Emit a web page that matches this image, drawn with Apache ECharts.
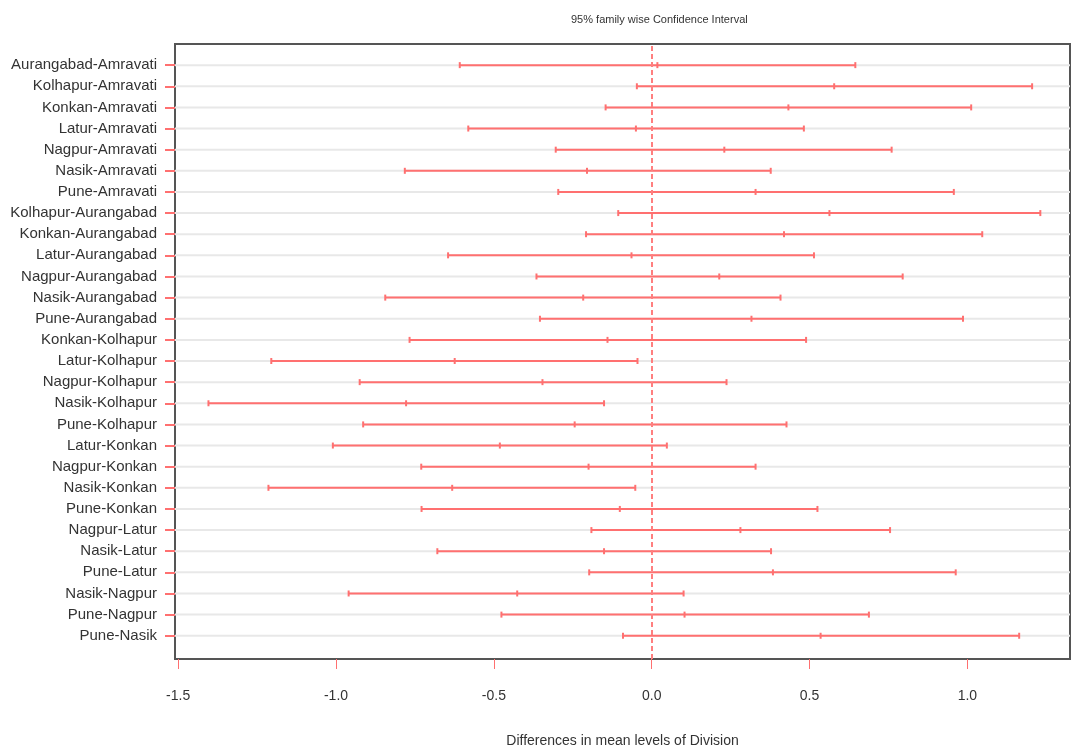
<!DOCTYPE html>
<html>
<head>
<meta charset="utf-8">
<script src="https://cdn.jsdelivr.net/npm/echarts@6/dist/echarts.min.js"></script>
<style>html,body{margin:0;padding:0;background:#fff}#c{width:1075px;height:749px}</style>
</head>
<body>
<div id="c"></div>
<script>
const comparisons = ["Aurangabad-Amravati","Kolhapur-Amravati","Konkan-Amravati","Latur-Amravati","Nagpur-Amravati","Nasik-Amravati","Pune-Amravati","Kolhapur-Aurangabad","Konkan-Aurangabad","Latur-Aurangabad","Nagpur-Aurangabad","Nasik-Aurangabad","Pune-Aurangabad","Konkan-Kolhapur","Latur-Kolhapur","Nagpur-Kolhapur","Nasik-Kolhapur","Pune-Kolhapur","Latur-Konkan","Nagpur-Konkan","Nasik-Konkan","Pune-Konkan","Nagpur-Latur","Nasik-Latur","Pune-Latur","Nasik-Nagpur","Pune-Nagpur","Pune-Nasik"];
const diff  = [0.018,0.578,0.433,-0.050,0.230,-0.205,0.329,0.563,0.419,-0.064,0.214,-0.217,0.316,-0.140,-0.624,-0.346,-0.778,-0.244,-0.481,-0.200,-0.632,-0.101,0.281,-0.151,0.384,-0.426,0.104,0.535];
const lower = [-0.608,-0.047,-0.146,-0.581,-0.304,-0.782,-0.296,-0.106,-0.208,-0.645,-0.365,-0.844,-0.354,-0.767,-1.205,-0.925,-1.404,-0.914,-1.010,-0.730,-1.214,-0.729,-0.191,-0.679,-0.198,-0.960,-0.476,-0.091];
const upper = [0.645,1.205,1.012,0.482,0.760,0.377,0.957,1.231,1.047,0.514,0.795,0.408,0.986,0.489,-0.045,0.237,-0.151,0.427,0.048,0.329,-0.052,0.525,0.755,0.378,0.963,0.101,0.688,1.164];
const xTicks = [-1.5,-1.0,-0.5,0.0,0.5,1.0];

const n = comparisons.length;
const rowPos = comparisons.map((_, i) => n - i);   // top row highest
const intervalData = comparisons.map((_, i) => [lower[i], diff[i], upper[i], rowPos[i]]);
const rowData = rowPos.map(p => [0, p]);
const RED = '#ff7070';

const chart = echarts.init(document.getElementById('c'), null, {renderer: 'canvas'});
chart.setOption({
  animation: false,
  backgroundColor: '#ffffff',
  title: {
    text: '95% family wise Confidence Interval',
    left: 566, top: 9,
    textStyle: {fontFamily: 'Liberation Sans Narrow, Liberation Sans', fontSize: 11, fontWeight: 'normal', color: '#333'}
  },
  grid: {left: 175, right: 5, top: 44, bottom: 90, outerBoundsMode: 'none', containLabel: false,
    show: true, borderColor: '#555', borderWidth: 2, backgroundColor: 'transparent'},
  xAxis: {
    type: 'value', min: -1.51, max: 1.325,
    axisLine: {show: false, onZero: false},
    splitLine: {show: false},
    axisTick: {show: true, customValues: xTicks, length: 10, lineStyle: {color: RED, width: 1}},
    axisLabel: {customValues: xTicks, formatter: v => v.toFixed(1), margin: 30, fontFamily: 'Liberation Sans', fontSize: 14, color: '#333'},
    name: 'Differences in mean levels of Division',
    nameLocation: 'middle', nameGap: 75,
    nameTextStyle: {fontFamily: 'Liberation Sans', fontSize: 14, color: '#333'}
  },
  yAxis: {
    type: 'value', min: -0.1, max: 29.0,
    axisLine: {show: false, onZero: false},
    splitLine: {show: false},
    axisTick: {show: true, customValues: rowPos, length: 10, lineStyle: {color: RED, width: 2}},
    axisLabel: {customValues: rowPos, formatter: v => comparisons[n - v] || '', margin: 18, fontFamily: 'Liberation Sans', fontSize: 15, color: '#333'}
  },
  series: [
    {
      type: 'custom',
      data: rowData,
      silent: true,
      z: 1,
      renderItem: function (params, api) {
        const cs = params.coordSys;
        const y = api.coord([0, api.value(1)])[1];
        return {type: 'line', shape: {x1: cs.x, y1: y, x2: cs.x + cs.width, y2: y},
          style: {stroke: '#e8e8e8', lineWidth: 2}};
      }
    },
    {
      type: 'custom',
      data: intervalData,
      z: 3,
      renderItem: function (params, api) {
        const y = api.value(3);
        const pl = api.coord([api.value(0), y]);
        const pc = api.coord([api.value(1), y]);
        const pu = api.coord([api.value(2), y]);
        const h = 3;
        const st = {stroke: RED, lineWidth: 2};
        return {type: 'group', children: [
          {type: 'line', shape: {x1: pl[0], y1: pl[1], x2: pu[0], y2: pu[1]}, style: st},
          {type: 'line', shape: {x1: pl[0], y1: pl[1] - h, x2: pl[0], y2: pl[1] + h}, style: st},
          {type: 'line', shape: {x1: pc[0], y1: pc[1] - h, x2: pc[0], y2: pc[1] + h}, style: st},
          {type: 'line', shape: {x1: pu[0], y1: pu[1] - h, x2: pu[0], y2: pu[1] + h}, style: st}
        ]};
      },
      markLine: {
        silent: true, symbol: 'none', label: {show: false},
        lineStyle: {color: '#ff7f7f', type: [5, 3], width: 2},
        data: [{xAxis: 0}]
      }
    }
  ]
});
</script>
</body>
</html>
